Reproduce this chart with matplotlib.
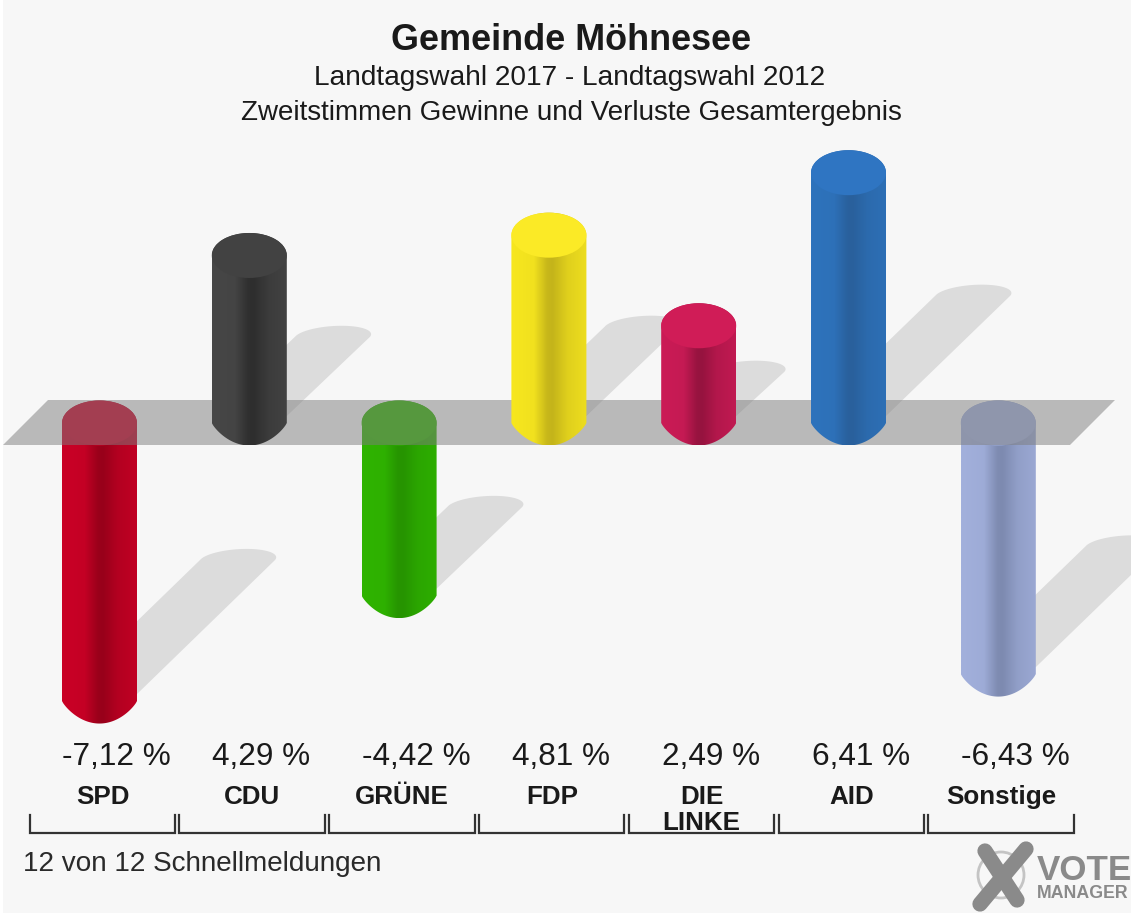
import numpy as np
import matplotlib
matplotlib.use('Agg')
import matplotlib.pyplot as plt
from matplotlib.patches import Ellipse, PathPatch, Polygon, Rectangle, Circle
from matplotlib.path import Path
from matplotlib.colors import to_rgb

plt.rcParams['font.family'] = ['Liberation Sans', 'DejaVu Sans']

# data
parties = ['SPD', 'CDU', 'GRÜNE', 'FDP', 'DIE\nLINKE', 'AID', 'Sonstige']
values = [-7.12, 4.29, -4.42, 4.81, 2.49, 6.41, -6.43]
value_labels = ['-7,12 %', '4,29 %', '-4,42 %', '4,81 %', '2,49 %', '6,41 %', '-6,43 %']
edge_colors = ['#ca0026', '#474747', '#2fb400', '#f7e71f', '#cb1b56', '#2e73bc', '#a2b0dc']
dark_colors = ['#98001a', '#2e2e2e', '#269400', '#c4b41a', '#96133f', '#29609c', '#7d8ab0']
top_colors = ['#ca0026', '#424242', '#2fb400', '#fbea26', '#d01c57', '#2f75c2', '#a2b0dc']

W, H = 1131, 913
X0, DX = 99.5, 149.8    # pixel of first bar, pixel per category
Y0, DY = 423.0, 39.05   # pixel of 0 %, pixel per percent

BAR_W = 37.5 / DX       # half width in category units
CAP_H = 22.5 / DY       # half height of the ellipse in percent units
SH_X = 19.4 / DX        # shadow shift per percent
SH_Y = 19.4 / DY

fig = plt.figure(figsize=(W / 100, H / 100), dpi=100, facecolor='white')
ax = fig.add_axes([0, 0, 1, 1])
ax.set_facecolor('none')
ax.axis('off')
xlim = ((0 - X0) / DX, (W - X0) / DX)
ylim = ((Y0 - H) / DY, Y0 / DY)


def bar_path(cx, lo, hi):
    t1 = np.linspace(np.pi, 0, 40)
    u = np.linspace(1, -1, 60)
    # bottom end is a bit pointed, not a true ellipse
    xs = np.r_[cx + BAR_W * np.cos(t1), cx + BAR_W * u]
    ys = np.r_[hi + CAP_H * np.sin(t1), lo - CAP_H * (1 - u ** 2) ** 0.85]
    return Path(np.c_[xs, ys], closed=False)


def shadow_poly(cx, base, v):
    d = abs(v)
    tx, ty = cx + d * SH_X, base + d * SH_Y + 3 / DY
    t = np.linspace(np.pi, 0, 40)
    xs = tx + BAR_W * np.cos(t) + 9 / DX * np.sin(t)
    ys = ty + 11 / DY * np.sin(t)
    b = base + 7 / DY
    xs = np.r_[cx - BAR_W, xs, cx + BAR_W]
    ys = np.r_[b, ys, b]
    return np.c_[xs, ys]


def draw_bar(i, v, z):
    lo, hi = min(v, 0), max(v, 0)
    path = bar_path(i, lo, hi)
    patch = PathPatch(path, fc='none', ec='none', zorder=z)
    ax.add_patch(patch)
    e, d = np.array(to_rgb(edge_colors[i])), np.array(to_rgb(dark_colors[i]))
    u = np.linspace(0, 1, 75)
    k = np.interp(u, [0, 0.3, 0.48, 0.55, 0.75, 1], [0, 0.12, 0.95, 1, 0.45, 0.2])
    img = (e[None, :] * (1 - k[:, None]) + d[None, :] * k[:, None])[None, :, :]
    im = ax.imshow(img, extent=[i - BAR_W, i + BAR_W, lo - CAP_H, hi + CAP_H],
                   aspect='auto', zorder=z, interpolation='bilinear')
    im.set_clip_path(patch)
    ax.add_patch(Ellipse((i, hi), 2 * BAR_W, 2 * CAP_H, fc=top_colors[i], ec='none', zorder=z + 0.1))


# shadows first, they lie on the floor behind everything
for i, v in enumerate(values):
    base = min(v, 0)
    ax.add_patch(Polygon(shadow_poly(i, base, v), closed=True, fc='#dcdcdc', ec='none', zorder=1))

# negative bars go below the grey plane, positive ones stand on it
for i, v in enumerate(values):
    if v < 0:
        draw_bar(i, v, 2)

px = lambda x: (x - X0) / DX
py = lambda y: (Y0 - y) / DY
plane = [(px(3), py(445)), (px(48), py(400)), (px(1115), py(400)), (px(1070), py(445))]
ax.add_patch(Polygon(plane, closed=True, fc='#7d7d7d', alpha=0.5, ec='none', zorder=3))

for i, v in enumerate(values):
    if v > 0:
        draw_bar(i, v, 4)

ax.set_xlim(xlim)
ax.set_ylim(ylim)

# everything else in pixel coordinates
ov = fig.add_axes([0, 0, 1, 1], facecolor='none')
ov.axis('off')
ov.set_xlim(0, W)
ov.set_ylim(H, 0)
ax.add_patch(Rectangle((0, 0), 1, 1, transform=ax.transAxes, fc='#f7f7f7', ec='none', zorder=0))
ov.add_patch(Rectangle((0, 0), 3, H, fc='white', ec='none'))

fs = lambda p: p * 0.72
tc = '#1a1a1a'
ov.text(571, 40, 'Gemeinde Möhnesee', ha='center', va='center', fontsize=fs(36), fontweight='bold', color=tc)
ov.text(570, 78, 'Landtagswahl 2017 - Landtagswahl 2012', ha='center', va='center', fontsize=fs(28), color=tc)
ov.text(571, 113, 'Zweitstimmen Gewinne und Verluste Gesamtergebnis', ha='center', va='center', fontsize=fs(27.8), color=tc)

for i, (lab, name) in enumerate(zip(value_labels, parties)):
    cx = X0 + DX * i
    ov.text(cx - 37, 757, lab, ha='left', va='center', fontsize=fs(31.5), color=tc)
    lines = name.split('\n')
    ov.text(cx + 3, 797, lines[0], ha='center', va='center', fontsize=fs(26), fontweight='bold', color=tc)
    if len(lines) > 1:
        ov.text(cx + 3, 823, lines[1], ha='center', va='center', fontsize=fs(26), fontweight='bold', color=tc)
    ov.plot([cx - 70, cx - 70, cx + 75.5, cx + 75.5], [815, 833, 833, 815], color='#333333', lw=1.6, solid_joinstyle='miter')

ov.text(23, 864, '12 von 12 Schnellmeldungen', ha='left', va='center', fontsize=fs(27.9), color='#2a2a2a')

# logo
ov.add_patch(Circle((1001, 875), 23, fc='none', ec='#c4c4c4', lw=2))
ov.plot([985, 1017], [851, 900], color='#8a8a8a', lw=11, solid_capstyle='round')
ov.plot([1026, 980], [849, 904], color='#8a8a8a', lw=11, solid_capstyle='round')
ov.text(1037, 870, 'VOTE', ha='left', va='center', fontsize=fs(35), fontweight='bold', color='#8a8a8a')
ov.text(1037, 893, 'MANAGER', ha='left', va='center', fontsize=fs(17.8), fontweight='bold', color='#8a8a8a')

fig.savefig('out.png', dpi=100, facecolor='#f7f7f7')
